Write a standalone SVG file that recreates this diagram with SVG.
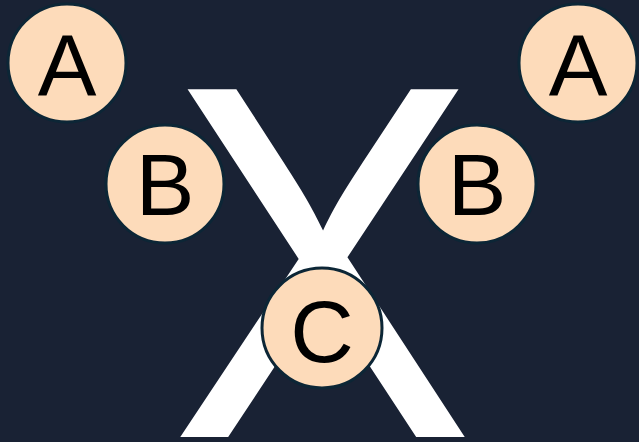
<svg xmlns="http://www.w3.org/2000/svg" width="639" height="442" viewBox="0 0 639 442">
<style>
.bg{fill:#192234}
.big{font-family:Inter,"Liberation Sans",sans-serif;font-size:478px;fill:#ffffff}
.node circle{fill:#fddbba;stroke:#0c2636;stroke-width:3}
.node text{font-family:"Liberation Sans",Arial,sans-serif;font-size:88px;fill:#000000;text-anchor:middle}
</style>
<rect class="bg" x="0" y="0" width="639" height="442"/>
<g id="bigX">
<text class="big" text-anchor="middle" transform="translate(322.5,437) scale(0.95,1)">X</text>
</g>
<g id="connectors"></g>
<g id="nodeA1" class="node"><circle cx="67" cy="63" r="59"/><text x="67" y="96">A</text></g>
<g id="nodeB1" class="node"><circle cx="165" cy="184" r="59"/><text x="165" y="215">B</text></g>
<g id="nodeA2" class="node"><circle cx="578" cy="63" r="59"/><text x="578" y="96">A</text></g>
<g id="nodeB2" class="node"><circle cx="477" cy="184" r="59"/><text x="477" y="215">B</text></g>
<g id="nodeC" class="node"><circle cx="322" cy="328" r="60"/><text x="322" y="362">C</text></g>
</svg>
